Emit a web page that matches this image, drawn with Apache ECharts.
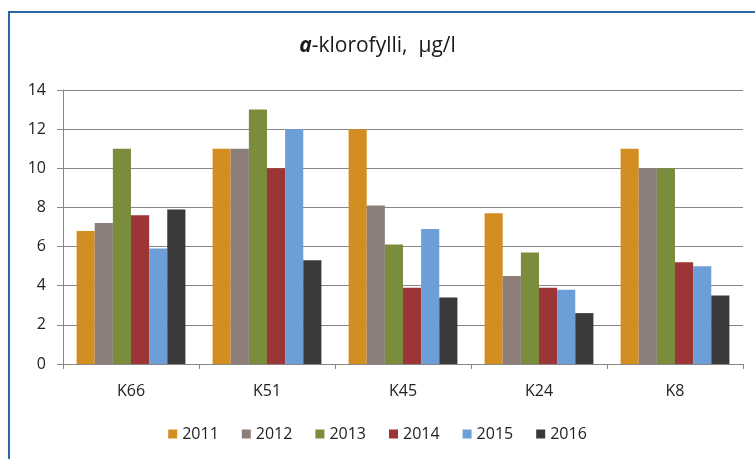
<!DOCTYPE html>
<html>
<head>
<meta charset="utf-8">
<script src="https://cdn.jsdelivr.net/npm/echarts@6/dist/echarts.min.js"></script>
<style>
  html, body { margin: 0; padding: 0; background: #fff; }
  #chart { width: 755px; height: 459px; }
</style>
</head>
<body>
<div id="chart"></div>
<script>
// Monitoring stations and years
const stations = ['K66', 'K51', 'K45', 'K24', 'K8'];
const years = ['2011', '2012', '2013', '2014', '2015', '2016'];

// Chlorophyll-a, µg/l, one array per year (station order as above)
const v2011 = [6.8, 11, 12, 7.7, 11];
const v2012 = [7.2, 11, 8.1, 4.5, 10];
const v2013 = [11, 13, 6.1, 5.7, 10];
const v2014 = [7.6, 10, 3.9, 3.9, 5.2];
const v2015 = [5.9, 12, 6.9, 3.8, 5.0];
const v2016 = [7.9, 5.3, 3.4, 2.6, 3.5];

const yTicks = [0, 2, 4, 6, 8, 10, 12, 14];

const seriesValues = [v2011, v2012, v2013, v2014, v2015, v2016];
const colors = ['#D38E22', '#8C7E78', '#7B8C3C', '#9C3535', '#6E9ED8', '#3A3A3A'];

const chart = echarts.init(document.getElementById('chart'), null, { renderer: 'canvas' });

const font = '"Open Sans", "Liberation Sans", sans-serif';

chart.setOption({
  backgroundColor: '#fff',
  animation: false,
  color: colors,
  title: {
    text: '{i|a}-klorofylli,  µg/l',
    left: 'center',
    top: 31,
    textStyle: {
      fontFamily: font,
      fontSize: 21,
      fontWeight: 'normal',
      color: '#1a1a1a',
      rich: {
        i: { fontFamily: font, fontSize: 21, fontWeight: 'bold', fontStyle: 'italic', color: '#1a1a1a' }
      }
    }
  },
  graphic: [{
    type: 'rect',
    shape: { x: 9, y: 12, width: 800, height: 500 },
    style: { fill: 'none', stroke: '#2B66A6', lineWidth: 2 },
    silent: true,
    z: 100
  }],
  legend: {
    data: years,
    bottom: 12,
    left: 'center',
    itemWidth: 9,
    itemHeight: 9,
    itemGap: 23,
    icon: 'rect',
    textStyle: { fontFamily: font, fontSize: 16, color: '#222' }
  },
  grid: { left: 63, right: 12, top: 90, bottom: 95, containLabel: false },
  xAxis: {
    type: 'category',
    data: stations,
    axisLine: { lineStyle: { color: '#868686', width: 1 } },
    axisTick: { show: true, length: 5, lineStyle: { color: '#868686' } },
    axisLabel: { fontFamily: font, fontSize: 16, color: '#222', margin: 19 }
  },
  yAxis: {
    type: 'value',
    min: yTicks[0],
    max: yTicks[yTicks.length - 1],
    interval: 2,
    axisLine: { show: true, lineStyle: { color: '#868686' } },
    axisTick: { show: true, length: 6, lineStyle: { color: '#868686' } },
    axisLabel: { fontFamily: font, fontSize: 16, color: '#222', margin: 17 },
    splitLine: { lineStyle: { color: '#868686', width: 1 } }
  },
  series: years.map((y, i) => ({
    name: y,
    type: 'bar',
    data: seriesValues[i],
    barGap: '0%',
    barCategoryGap: '20%'
  }))
});
</script>
</body>
</html>
